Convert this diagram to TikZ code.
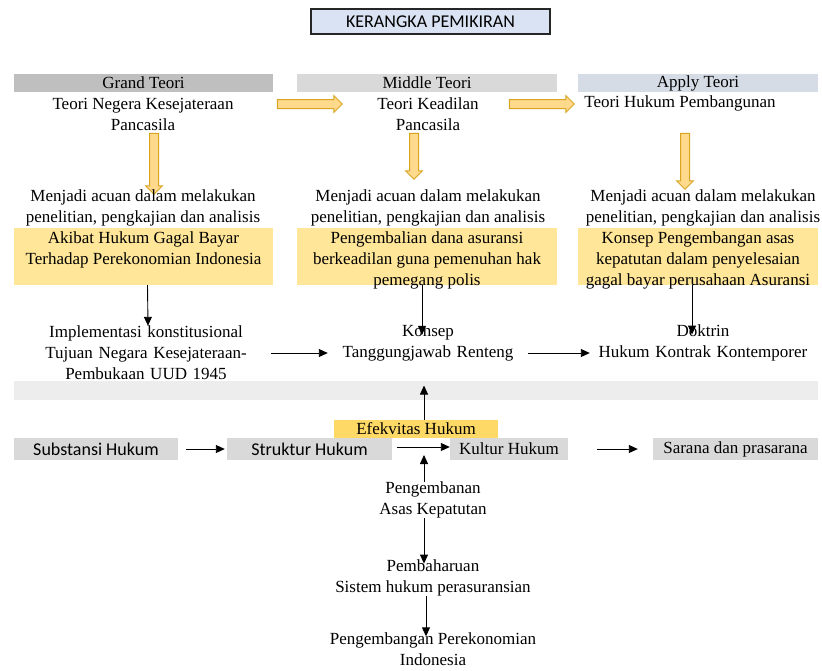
\documentclass[tikz,border=0pt]{standalone}
\usepackage{fontspec}
\setmainfont{Liberation Serif}
\newfontfamily\calibrifont{Carlito}
\usetikzlibrary{shapes.arrows}
\usetikzlibrary{arrows.meta}
\usetikzlibrary{positioning}

\definecolor{titleblue}{HTML}{DAE3F3}
\definecolor{grandgray}{HTML}{BFBFBF}
\definecolor{middlegray}{HTML}{D9D9D9}
\definecolor{applyblue}{HTML}{D6DCE5}
\definecolor{boxyellow}{HTML}{FFE699}
\definecolor{efekyellow}{HTML}{FFD966}
\definecolor{bandgray}{HTML}{EDEDED}
\definecolor{arrowfill}{HTML}{FFD98C}
\definecolor{arrowline}{HTML}{D9A521}

\tikzset{
  txt/.style={align=center, inner sep=0pt, font=\fontsize{17}{21}\selectfont},
  bar/.style={minimum width=259pt, minimum height=18pt, inner sep=0pt, font=\fontsize{17}{21}\selectfont},
  ybox/.style={fill=boxyellow, minimum width=259pt, minimum height=57pt, inner sep=0pt},
  gbox/.style={fill=middlegray, minimum height=22pt, inner sep=0pt},
  sansfont/.style={font=\calibrifont\fontsize{18}{21}\selectfont},
  arr/.style={-{Triangle[length=9pt,width=8pt]}, line width=0.9pt},
  blockarrow/.style={single arrow, draw=arrowline, fill=arrowfill, line width=1pt, inner xsep=0pt, inner ysep=4pt, single arrow head extend=4pt, outer sep=0pt}
}

\begin{document}
\begin{tikzpicture}[x=1pt, y=-1pt]
\fill[white] (0,0) rectangle (822,670);
\useasboundingbox (0,0) rectangle (822,670);

% title
\node[draw=black!85, line width=1.2pt, fill=titleblue, minimum width=239pt, minimum height=25pt, inner sep=0pt, font=\calibrifont\fontsize{18}{21}\selectfont] (title) at (430.5,21.5) {KERANGKA PEMIKIRAN};

% teori headers
\node[bar, fill=grandgray] (grand) at (143.5,83) {Grand Teori};
\node[bar, fill=middlegray, minimum width=260pt] (middle) at (427,83) {Middle Teori};
\node[bar, fill=applyblue, minimum width=240pt] (apply) at (698,83) {Apply Teori};

\node[txt] (negara) at (143,114) {Teori Negera Kesejateraan\\Pancasila};
\node[txt] (keadilan) at (428,114) {Teori Keadilan\\Pancasila};
\node[txt] (pembangunan) at (680,103) {Teori Hukum Pembangunan};

% block arrows
\node[blockarrow, minimum height=65pt] (ga1) at (307.5,104) {};
\node[blockarrow, minimum height=65pt] (ga2) at (539.5,104) {};
\node[blockarrow, minimum height=61pt, rotate=-90] (va1) at (154,161.5) {};
\node[blockarrow, minimum height=46pt, rotate=-90] (va2) at (414,154) {};
\node[blockarrow, minimum height=56pt, rotate=-90] (va3) at (685,159) {};

% acuan
\node[txt] (acuan1) at (143,207.5) {Menjadi acuan dalam melakukan\\penelitian, pengkajian dan analisis};
\node[txt] (acuan2) at (428,207.5) {Menjadi acuan dalam melakukan\\penelitian, pengkajian dan analisis};
\node[txt] (acuan3) at (703,207.5) {Menjadi acuan dalam melakukan\\penelitian, pengkajian dan analisis};

% yellow boxes
\node[ybox] (akibatbox) at (143.5,256.5) {};
\node[ybox, minimum width=260pt] (danabox) at (427,256.5) {};
\node[ybox, minimum width=240pt] (asasbox) at (698,256.5) {};
\node[txt, anchor=north] (akibat) at (143.5,231) {Akibat Hukum Gagal Bayar\\Terhadap Perekonomian Indonesia};
\node[txt, anchor=north] (dana) at (427,231) {Pengembalian dana asuransi\\berkeadilan guna pemenuhan hak\\pemegang polis};
\node[txt, anchor=north] (asas) at (698,231) {Konsep Pengembangan asas\\kepatutan dalam penyelesaian\\gagal bayar perusahaan Asuransi};

% konsep row
\node[txt, text width=250pt] (implementasi) at (146,353) {Implementasi konstitusional\\Tujuan Negara Kesejateraan-\\Pembukaan UUD 1945};
\node[txt, text width=200pt] (konsep) at (428,343) {Konsep\\Tanggungjawab Renteng};
\node[txt, text width=226pt] (doktrin) at (703,343) {Doktrin\\Hukum Kontrak Kontemporer};

\draw[arr] ([xshift=4pt]akibatbox.south) -- ([xshift=2pt]implementasi.north);
\draw[arr] ([xshift=-5pt]danabox.south) -- ([xshift=-6pt,yshift=-10pt]konsep.north);
\draw[arr] ([xshift=-6pt]asasbox.south) -- ([xshift=-11pt,yshift=-10pt]doktrin.north);
\draw[arr] (implementasi.east) -- (implementasi.east -| konsep.west);
\draw[arr] (konsep.east |- implementasi.east) -- (doktrin.west |- implementasi.east);

% efektivitas
\node[fill=bandgray, minimum width=804pt, minimum height=19pt, inner sep=0pt] (band) at (416,390.5) {};
\node[fill=efekyellow, minimum width=164pt, minimum height=18pt, inner sep=0pt, font=\fontsize{17}{21}\selectfont] (efek) at (416,429) {Efekvitas Hukum};
\draw[arr] ([xshift=8pt]efek.north) -- ([xshift=8pt,yshift=5pt]band.center);

\node[gbox, sansfont, minimum width=164pt] (substansi) at (96,449) {Substansi Hukum};
\node[gbox, sansfont, minimum width=165pt] (struktur) at (309.5,449) {Struktur Hukum};
\node[gbox, minimum width=118pt, font=\fontsize{17}{21}\selectfont] (kultur) at (509,449) {Kultur Hukum};
\node[gbox, minimum width=165pt, font=\fontsize{17}{21}\selectfont] (sarana) at (735.5,449) {Sarana dan prasarana};

\draw[arr] ([xshift=8pt]substansi.east) -- ([xshift=-2pt]struktur.west);
\draw[arr] ([xshift=5pt,yshift=2pt]struktur.east) -- ([yshift=2pt]kultur.west);
\draw[arr] ([xshift=29pt]kultur.east) -- ([xshift=-15pt]sarana.west);

% bawah
\coordinate (kulturjoin) at (424,455);
\node[txt] (pengembanan) at (433,500) {Pengembanan\\Asas Kepatutan};
\node[txt] (pembaharuan) at (433,578) {Pembaharuan\\Sistem hukum perasuransian};
\node[txt] (pengembangan) at (433,649) {Pengembangan Perekonomian\\Indonesia};

\draw[arr] ([xshift=-9pt]pengembanan.north) -- (kulturjoin);
\draw[arr] ([xshift=-9pt]pengembanan.south) -- ([xshift=-9pt,yshift=-4pt]pembaharuan.north);
\draw[arr] ([xshift=-7pt]pembaharuan.south) -- ([xshift=-7pt,yshift=-4pt]pengembangan.north);
\end{tikzpicture}
\end{document}
